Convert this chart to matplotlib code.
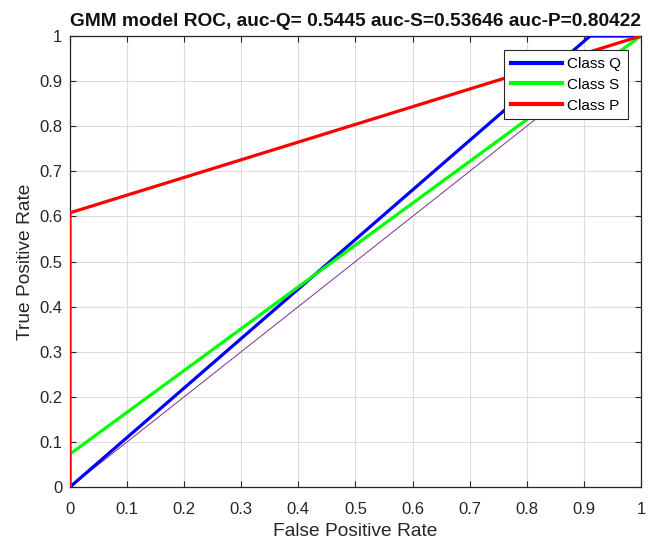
import matplotlib
matplotlib.use("Agg")
import matplotlib.pyplot as plt

plt.rcParams['font.family'] = ['Liberation Sans', 'DejaVu Sans']

# ROC curves (FPR, TPR)
q_fpr = [0.0, 0.911, 1.0]
q_tpr = [0.0, 1.0, 1.0]
s_fpr = [0.0, 0.0, 1.0]
s_tpr = [0.0, 0.073, 1.0]
p_fpr = [0.0, 0.0, 0.0, 1.0]
p_tpr = [0.0, 0.37, 0.608, 1.0]
diag = [0.0, 1.0]

labels = ['Class Q', 'Class S', 'Class P']
title = 'GMM model ROC, auc-Q= 0.5445 auc-S=0.53646 auc-P=0.80422'
ticks = [0, 0.1, 0.2, 0.3, 0.4, 0.5, 0.6, 0.7, 0.8, 0.9, 1]
tick_labels = ['0', '0.1', '0.2', '0.3', '0.4', '0.5', '0.6', '0.7', '0.8', '0.9', '1']

fig = plt.figure(figsize=(6.57, 5.43), dpi=100)
ax = fig.add_axes([0.1065, 0.1031, 0.869, 0.8306])

lq, = ax.plot(q_fpr, q_tpr, color='#0000ff', lw=2.3, label=labels[0], zorder=3)
ls, = ax.plot(s_fpr, s_tpr, color='#00ff00', lw=2.3, label=labels[1], zorder=3)
lp, = ax.plot(p_fpr, p_tpr, color='#ff0000', lw=2.3, label=labels[2], zorder=3)
ax.plot(diag, diag, color='#7e2f8e', lw=0.7, zorder=2)

ax.set_xlim(0, 1)
ax.set_ylim(0, 1)
ax.set_xticks(ticks)
ax.set_yticks(ticks)
ax.set_xticklabels(tick_labels)
ax.set_yticklabels(tick_labels)
ax.grid(True, color='#dcdcdc', lw=0.8, zorder=0)
ax.set_axisbelow(True)
ax.tick_params(direction='in', top=True, right=True, length=4, width=0.8,
               labelsize=12, colors='#262626')
ax.tick_params(axis='x', pad=10.5)
ax.tick_params(axis='y', pad=5.5)
for sp in ax.spines.values():
    sp.set_color('#262626')
    sp.set_linewidth(0.9)

ax.set_xlabel('False Positive Rate', fontsize=13.8, color='#262626', labelpad=4.5)
ax.set_ylabel('True Positive Rate', fontsize=13.8, color='#262626', labelpad=3.5)
ax.set_title(title, fontsize=13.8, fontweight='bold', color='#111111', pad=7.5)

leg = ax.legend(handles=[lq, ls, lp], loc='upper right', bbox_to_anchor=(0.977, 0.969),
                fontsize=11, frameon=True, fancybox=False, framealpha=1,
                handlelength=3.3, handletextpad=0.35, borderpad=0.45,
                labelspacing=0.45, borderaxespad=0)
leg.get_frame().set_edgecolor('#262626')
leg.get_frame().set_linewidth(0.8)
for h in leg.get_lines():
    h.set_linewidth(3.0)

fig.savefig('out.png', dpi=100, facecolor='white')
